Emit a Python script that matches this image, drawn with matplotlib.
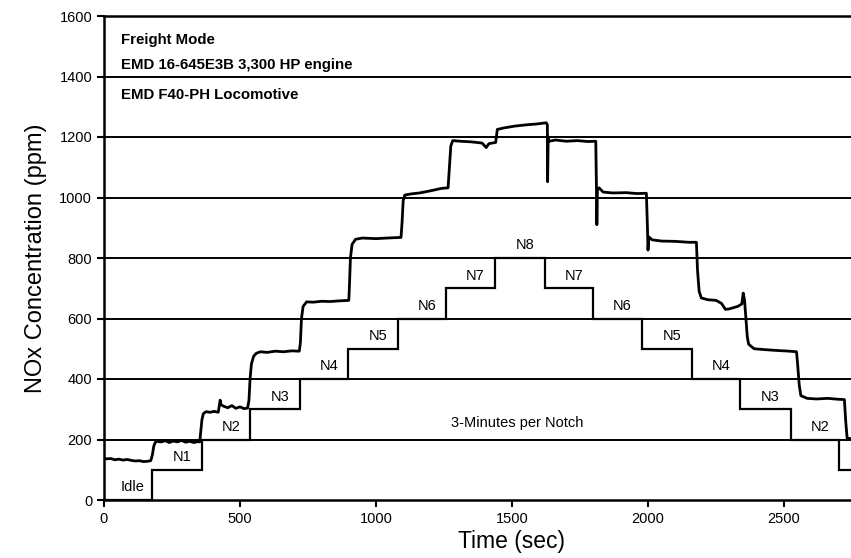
import matplotlib
matplotlib.use("Agg")
import matplotlib.pyplot as plt

# ---- data -------------------------------------------------------------
time_s = [0, 10, 25, 40, 55, 70, 85, 100, 115, 130, 145, 160, 172,
          178, 183, 188, 195, 210, 225, 240, 255, 270, 285, 300, 315, 330, 345, 352,
          356, 360, 365, 375, 390, 405, 420, 427, 430, 440, 455, 470, 485, 500, 515, 528,
          533, 537, 542, 550, 560, 575, 600, 630, 660, 690, 718,
          722, 726, 732, 745, 770, 800, 830, 860, 900,
          902, 906, 912, 925, 950, 1000, 1040, 1092,
          1096, 1100, 1106, 1130, 1160, 1200, 1240, 1265,
          1270, 1275, 1282, 1310, 1350, 1390, 1405, 1415, 1440,
          1446, 1470, 1510, 1550, 1590, 1626,
          1630, 1631, 1633, 1636, 1660, 1700, 1740, 1780, 1808,
          1811, 1812, 1814, 1820, 1835, 1870, 1920, 1960, 1994,
          1998, 2000, 2003, 2015, 2050, 2100, 2150, 2178,
          2182, 2188, 2196, 2220, 2250, 2270, 2285, 2300, 2330, 2345, 2350, 2355,
          2360, 2365, 2370, 2390, 2430, 2480, 2520, 2546,
          2550, 2556, 2562, 2585, 2620, 2660, 2700, 2722,
          2727, 2732, 2760]
nox_ppm = [138, 136, 137, 133, 135, 132, 134, 131, 129, 130, 127, 128, 130,
           150, 178, 190, 194, 192, 196, 190, 195, 192, 197, 191, 194, 190, 193, 192,
           230, 265, 285, 292, 290, 293, 290, 330, 315, 310, 305, 312, 303, 308, 302, 304,
           330, 400, 450, 475, 485, 490, 488, 492, 490, 493, 492,
           520, 600, 640, 655, 654, 657, 656, 658, 660,
           700, 800, 845, 862, 866, 864, 866, 868,
           920, 990, 1008, 1012, 1015, 1022, 1030, 1032,
           1100, 1170, 1188, 1186, 1184, 1180, 1165, 1178, 1182,
           1225, 1230, 1236, 1240, 1243, 1247,
           1240, 1052, 1200, 1186, 1190, 1186, 1188, 1185, 1186,
           1000, 910, 1025, 1032, 1018, 1015, 1016, 1013, 1014,
           900, 826, 870, 860, 856, 855, 852, 852,
           760, 690, 668, 662, 660, 650, 630, 632, 640, 648, 684, 660,
           600, 540, 515, 500, 497, 494, 492, 490,
           450, 380, 345, 336, 334, 336, 333, 332,
           260, 205, 200]

notch_edges = [0, 176, 360, 537, 720, 897, 1081, 1257, 1437, 1621, 1798,
               1978, 2162, 2338, 2526, 2702, 3000]
notch_levels = [0, 100, 200, 300, 400, 500, 600, 700, 800, 700, 600,
                500, 400, 300, 200, 100]
notch_names = ["Idle", "N1", "N2", "N3", "N4", "N5", "N6", "N7", "N8",
               "N7", "N6", "N5", "N4", "N3", "N2", ""]

header_lines = ["Freight Mode", "EMD 16-645E3B 3,300 HP engine",
                "EMD F40-PH Locomotive"]
header_y = [1520, 1438, 1339]

x_ticks = [0, 500, 1000, 1500, 2000, 2500]
y_ticks = [0, 200, 400, 600, 800, 1000, 1200, 1400, 1600]

# ---- figure -----------------------------------------------------------
plt.rcParams['font.family'] = ['Liberation Sans', 'DejaVu Sans']
fig = plt.figure(figsize=(8.51, 5.58), dpi=100)
ax = fig.add_axes([104 / 851, 58 / 558, 816 / 851, 484 / 558])

ax.set_xlim(0, 3000)
ax.set_ylim(0, 1600)

for yv in y_ticks[1:-1]:
    ax.axhline(yv, color='black', lw=1.4, zorder=1)

ax.stairs(notch_levels, notch_edges, color='black', lw=1.6, zorder=2,
          baseline=None)
ax.plot(time_s, nox_ppm, color='black', lw=2.0, zorder=3)

for i, name in enumerate(notch_names):
    if not name:
        continue
    xm = (notch_edges[i] + notch_edges[i + 1]) / 2 + 18
    ax.text(xm, notch_levels[i] + 42, name, ha='center', va='center',
            fontsize=10.5, zorder=4)

ax.text(1518, 255, "3-Minutes per Notch", ha='center', va='center',
        fontsize=10.5, zorder=4)

for line, yv in zip(header_lines, header_y):
    ax.text(62, yv, line, ha='left', va='center', fontsize=10.8,
            fontweight='bold', zorder=4)

ax.set_xticks(x_ticks)
ax.set_yticks(y_ticks)
ax.tick_params(axis='both', direction='out', length=5, width=1.5,
               labelsize=10.5, color='black')
for s in ['left', 'bottom', 'top']:
    ax.spines[s].set_linewidth(1.8)
ax.spines['right'].set_visible(False)

ax.set_xlabel("Time (sec)", fontsize=16.5, labelpad=3)
ax.set_ylabel("NOx Concentration (ppm)", fontsize=17, labelpad=9)

fig.savefig("out.png", dpi=100)
